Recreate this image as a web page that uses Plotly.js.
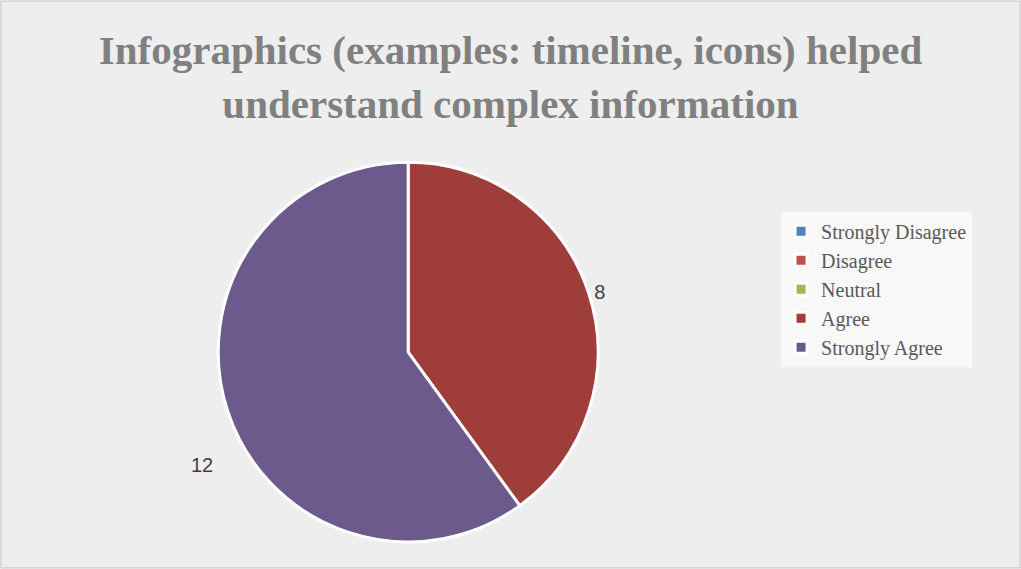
<!DOCTYPE html>
<html><head><meta charset="utf-8">
<script src="https://cdn.plot.ly/plotly-3.0.1.min.js"></script>
<style>html,body{margin:0;padding:0;background:#fff}#chart{width:1021px;height:569px}</style>
</head><body><div id="chart"></div>
<script>
const categories = ["Strongly Disagree", "Disagree", "Neutral", "Agree", "Strongly Agree"];
const counts = [0, 0, 0, 8, 12];
const colors = ["#4f81bd", "#c0504d", "#9bbb59", "#9e3d3a", "#6c5a8c"];
const titleText = "Infographics (examples: timeline, icons) helped<br>understand complex information";

const labelFont = {family: "Liberation Sans, Arial, sans-serif", size: 20, color: "#404040"};

const trace = {
  type: "pie",
  labels: categories,
  values: counts,
  sort: false,
  direction: "clockwise",
  rotation: 0,
  marker: {colors: colors, line: {color: "#ffffff", width: 3}},
  texttemplate: counts.map((v, i) => (v > 0 && i !== 4) ? "%{value}" : ""),
  textposition: "outside",
  outsidetextfont: labelFont,
  domain: {x: [0.2135, 0.586], y: [0.0475, 0.715]},
  hoverinfo: "label+value",
  showlegend: true
};

const layout = {
  width: 1021, height: 569,
  margin: {l: 0, r: 0, t: 0, b: 0},
  paper_bgcolor: "#eeeeee",
  title: {
    text: titleText,
    x: 0.5, xanchor: "center",
    y: 0.887, yanchor: "middle",
    font: {family: "Liberation Serif, Times New Roman, serif", size: 41, color: "#808080", weight: "bold"}
  },
  legend: {
    x: 0.765, xanchor: "left", y: 0.628, yanchor: "top",
    bgcolor: "rgba(255,255,255,0.6)",
    font: {family: "Liberation Serif, Times New Roman, serif", size: 20, color: "#595959"},
    traceorder: "normal",
    itemwidth: 30,
    tracegroupgap: 0
  },
  annotations: [{
    text: String(counts[4]), showarrow: false,
    xref: "paper", yref: "paper", x: 202 / 1021, y: 1 - 465 / 569,
    xanchor: "center", yanchor: "middle", font: labelFont
  }],
  shapes: [{type: "rect", xref: "paper", yref: "paper", x0: 0.001, x1: 0.999, y0: 0.002, y1: 0.998,
            line: {color: "#c8c8c8", width: 1}}]
};

Plotly.newPlot("chart", [trace], layout, {displayModeBar: false, staticPlot: true});
</script></body></html>
